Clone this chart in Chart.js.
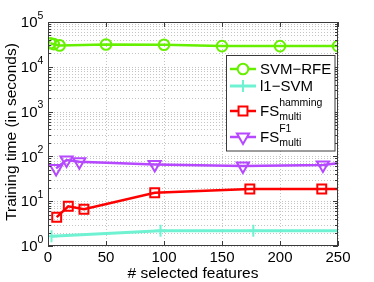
<!DOCTYPE html>
<html>
<head>
<meta charset="utf-8">
<script src="https://cdn.jsdelivr.net/npm/chart.js@4"></script>
<style>
  body { margin: 0; background: #fff; }
  #wrap { width: 374px; height: 282px; }
</style>
</head>
<body>
<div id="wrap"><canvas id="timeChart" width="374" height="282"></canvas></div>
<script>
// values (x = # selected features, y = seconds)
var svmRfeX = [2, 5, 10, 50, 100, 150, 200, 250];
var svmRfeY = [33500, 32000, 30000, 31500, 31000, 29000, 29000, 29000];
var l1SvmX = [3, 97, 177, 250];
var l1SvmY = [1.65, 2.2, 2.2, 2.2];
var hammingX = [7.5, 17.5, 31, 92, 174, 236, 250];
var hammingY = [4.4, 7.7, 6.6, 15.5, 18.7, 18.7, 18.7];
var f1X = [7, 16, 27, 92, 168, 237, 250];
var f1Y = [54, 83, 76, 66, 61, 64, 70];

var xTicks = [0, 50, 100, 150, 200, 250];
var yExponents = [0, 1, 2, 3, 4, 5];

var FONT = '"Liberation Sans", Arial, Helvetica, sans-serif';

function pairs(xs, ys) {
    return xs.map(function(x, i) { return { x: x, y: ys[i] }; });
}

// hide the marker of the point that only carries the line to the edge
function radii(n, r, lastHidden) {
    var out = [];
    for (var i = 0; i < n; i++) out.push(lastHidden && i == n - 1 ? 0 : r);
    return out;
}

var series = [
    { label: 'SVM\u2212RFE', color: '#66f000', style: 'circle', r: 5.3, rot: 0, xs: svmRfeX, ys: svmRfeY, hideLast: false },
    { label: 'l1\u2212SVM', color: '#6ff2d2', style: 'cross', r: 6, rot: 0, xs: l1SvmX, ys: l1SvmY, hideLast: true },
    { label: 'FS', sup: 'hamming', sub: 'multi', color: '#ff0000', style: 'rect', r: 6.3, rot: 0, xs: hammingX, ys: hammingY, hideLast: true },
    { label: 'FS', sup: 'F1', sub: 'multi', color: '#b648ff', style: 'triangle', r: 7, rot: 180, xs: f1X, ys: f1Y, hideLast: true }
];

var datasets = series.map(function(s) {
    return {
        label: s.label,
        data: pairs(s.xs, s.ys),
        showLine: true,
        borderColor: s.color,
        backgroundColor: 'rgba(0,0,0,0)',
        borderWidth: s.style == 'cross' ? 3 : 2.5,
        pointStyle: s.style,
        pointRotation: s.rot,
        pointRadius: radii(s.xs.length, s.r, s.hideLast),
        pointBorderColor: s.color,
        pointBackgroundColor: 'rgba(0,0,0,0)',
        pointBorderWidth: 2,
        tension: 0
    };
});

var matlabAxes = {
    id: 'matlabAxes',
    beforeDatasetsDraw: function(chart) {
        var ctx = chart.ctx, a = chart.chartArea;
        var xs = chart.scales.x, ys = chart.scales.y;
        ctx.save();
        ctx.strokeStyle = '#c4c4c4';
        ctx.lineWidth = 1;
        ctx.setLineDash([1, 2]);
        yExponents.forEach(function(k) {
            for (var m = 1; m <= 9; m++) {
                var v = m * Math.pow(10, k);
                if (v >= Math.pow(10, 5) && m > 1) break;
                var py = Math.round(ys.getPixelForValue(v)) + 0.5;
                ctx.beginPath(); ctx.moveTo(a.left, py); ctx.lineTo(a.right, py); ctx.stroke();
            }
        });
        xTicks.forEach(function(t) {
            var px = Math.round(xs.getPixelForValue(t)) + 0.5;
            ctx.beginPath(); ctx.moveTo(px, a.top); ctx.lineTo(px, a.bottom); ctx.stroke();
        });
        ctx.restore();
    },
    afterDatasetsDraw: function(chart) {
        var ctx = chart.ctx, a = chart.chartArea;
        var xs = chart.scales.x, ys = chart.scales.y;
        ctx.save();
        ctx.strokeStyle = '#3a3a3a';
        ctx.lineWidth = 1;
        ctx.strokeRect(a.left + 0.5, a.top + 0.5, a.right - a.left - 1, a.bottom - a.top - 1);

        // inward tick marks
        yExponents.forEach(function(k) {
            for (var m = 1; m <= 9; m++) {
                var v = m * Math.pow(10, k);
                if (v >= Math.pow(10, 5) && m > 1) break;
                var py = Math.round(ys.getPixelForValue(v)) + 0.5;
                var len = m == 1 ? 5 : 3;
                ctx.beginPath();
                ctx.moveTo(a.left, py); ctx.lineTo(a.left + len, py);
                ctx.moveTo(a.right, py); ctx.lineTo(a.right - len, py);
                ctx.stroke();
            }
        });
        xTicks.forEach(function(t) {
            var px = Math.round(xs.getPixelForValue(t)) + 0.5;
            ctx.beginPath();
            ctx.moveTo(px, a.bottom); ctx.lineTo(px, a.bottom - 5);
            ctx.moveTo(px, a.top); ctx.lineTo(px, a.top + 5);
            ctx.stroke();
        });

        // tick labels
        ctx.fillStyle = '#000';
        ctx.textBaseline = 'middle';
        yExponents.forEach(function(k) {
            var py = ys.getPixelForValue(Math.pow(10, k));
            ctx.font = '15px ' + FONT;
            ctx.textAlign = 'right';
            ctx.fillText('10', 37.5, py + 1);
            ctx.font = '10.5px ' + FONT;
            ctx.textAlign = 'left';
            ctx.fillText(String(k), 37.5, py - 6);
        });
        ctx.font = '15px ' + FONT;
        ctx.textAlign = 'center';
        ctx.textBaseline = 'top';
        xTicks.forEach(function(t) {
            ctx.fillText(String(t), xs.getPixelForValue(t), 250);
        });

        // axis titles
        ctx.font = '15.5px ' + FONT;
        ctx.textBaseline = 'middle';
        ctx.fillText('# selected features', (a.left + a.right) / 2, 274);
        ctx.save();
        ctx.translate(12, 132);
        ctx.rotate(-Math.PI / 2);
        ctx.fillText('Training time (in seconds)', 0, 0);
        ctx.restore();

        // legend
        var lx = 226.5, ly = 55.5, lw = 108.5, lh = 95.5;
        ctx.fillStyle = '#fff';
        ctx.fillRect(lx, ly, lw, lh);
        ctx.strokeStyle = '#3a3a3a';
        ctx.lineWidth = 1;
        ctx.strokeRect(lx, ly, lw, lh);
        var rowY = [69, 86, 111, 137];
        series.forEach(function(s, i) {
            var y = rowY[i];
            ctx.strokeStyle = s.color;
            ctx.lineWidth = s.style == 'cross' ? 3 : 2.5;
            ctx.beginPath(); ctx.moveTo(230, y); ctx.lineTo(256, y); ctx.stroke();
            ctx.lineWidth = 2;
            ctx.fillStyle = '#fff';
            Chart.helpers.drawPoint(ctx, {
                pointStyle: s.style, radius: s.r, rotation: s.rot, borderWidth: 2
            }, 243, y);
            ctx.fillStyle = '#000';
            ctx.textAlign = 'left';
            ctx.textBaseline = 'middle';
            ctx.font = '15px ' + FONT;
            ctx.fillText(s.label, 260, y + 0.5);
            if (s.sup) {
                var w = ctx.measureText(s.label).width;
                ctx.font = '10.5px ' + FONT;
                ctx.fillText(s.sup, 260 + w, y - 8);
                ctx.fillText(s.sub, 260 + w, y + 6.5);
            }
        });
        ctx.restore();
    }
};

var ctx = document.getElementById('timeChart').getContext('2d');
var timeChart = new Chart(ctx, {
    type: 'scatter',
    data: { datasets: datasets },
    options: {
        responsive: false,
        animation: false,
        events: [],
        layout: { padding: { left: 0, right: 36, top: 22, bottom: 0 } },
        scales: {
            x: {
                type: 'linear', min: 0, max: 250,
                grid: { display: false },
                border: { display: false },
                ticks: { display: false },
                afterFit: function(scale) { scale.height = 36; }
            },
            y: {
                type: 'logarithmic', min: 1, max: 100000,
                grid: { display: false },
                border: { display: false },
                ticks: { display: false },
                afterFit: function(scale) { scale.width = 48; }
            }
        },
        plugins: {
            legend: { display: false },
            tooltip: { enabled: false }
        }
    },
    plugins: [matlabAxes]
});
</script>
</body>
</html>
